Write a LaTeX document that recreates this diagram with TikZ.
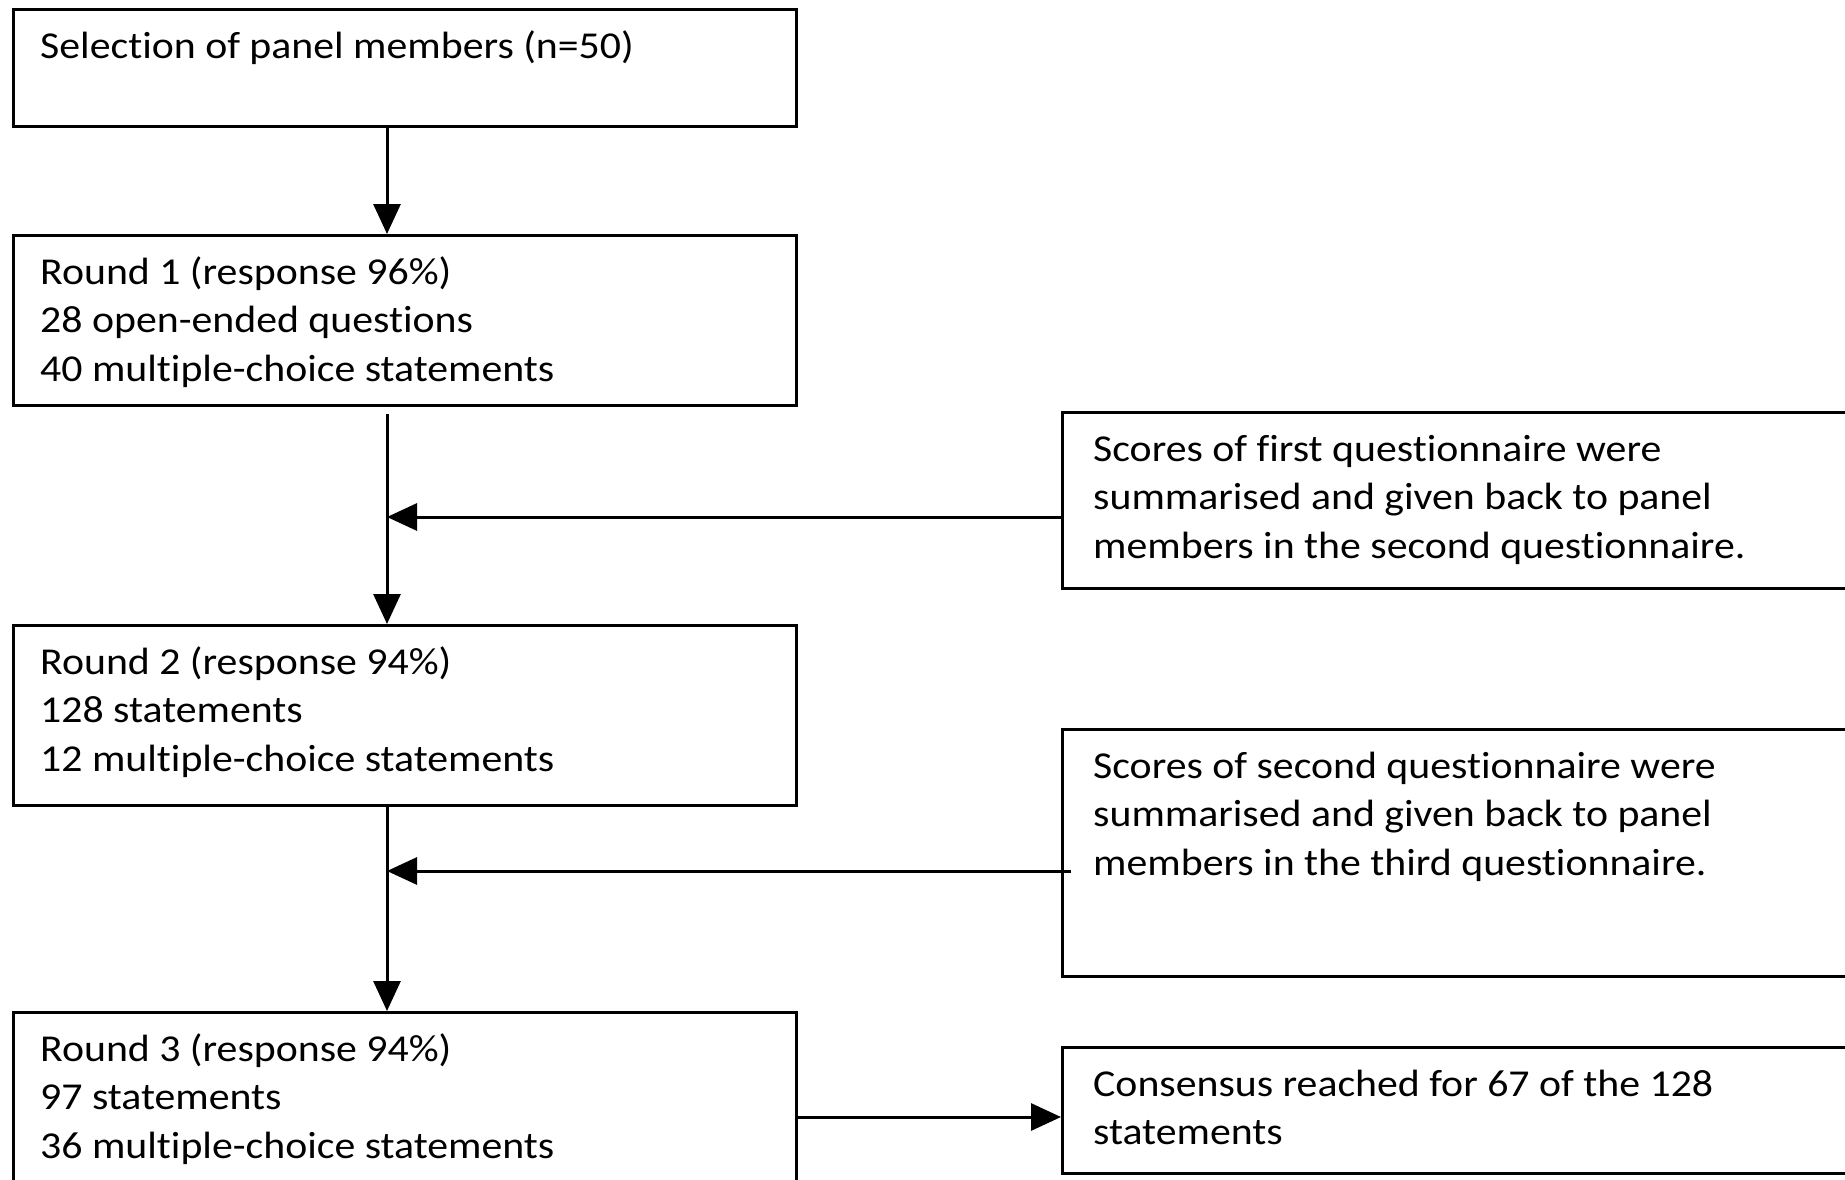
\documentclass[tikz,border=0pt]{standalone}
\usepackage{fontspec}
\setmainfont{Carlito}[Ligatures={NoCommon}, FakeStretch=1.1]
\usetikzlibrary{arrows.meta}
\tikzset{
  box/.style={draw=black, line width=3pt, inner sep=0pt, anchor=north west},
  txt/.style={inner sep=0pt, anchor=north west, align=left, font=\fontsize{38}{48.5}\selectfont, text=black},
  conn/.style={line width=3pt, draw=black, -{Triangle[length=30pt,width=27pt]}},
  plain/.style={line width=3pt, draw=black}
}
\begin{document}
\begin{tikzpicture}[x=1pt,y=1pt]
\useasboundingbox (0,0) rectangle (1845,-1180);
% left column boxes
\node[box, minimum width=783pt, minimum height=117pt] (b1) at (12,-8) {};
\node[box, minimum width=783pt, minimum height=170pt] (b2) at (12,-234) {};
\node[box, minimum width=783pt, minimum height=180pt] (b3) at (12,-624) {};
\node[box, minimum width=783pt, minimum height=200pt] (b4) at (12,-1011) {};
% right column boxes
\node[box, minimum width=800pt, minimum height=176pt] (sa) at (1061,-411) {};
\node[box, minimum width=800pt, minimum height=247pt] (sb) at (1061,-728) {};
\node[box, minimum width=800pt, minimum height=126pt] (sc) at (1061,-1046) {};
% texts
\node[txt] (t1) at ([xshift=28pt,yshift=-16pt]b1.north west) {\strut Selection of panel members (n=50)};
\node[txt] (t2) at ([xshift=28pt,yshift=-16pt]b2.north west) {\strut Round 1 (response 96\%)\\28 open-ended questions\\40 multiple-choice statements};
\node[txt] (t3) at ([xshift=28pt,yshift=-16pt]b3.north west) {\strut Round 2 (response 94\%)\\128 statements\\12 multiple-choice statements};
\node[txt] (t4) at ([xshift=28pt,yshift=-16pt]b4.north west) {\strut Round 3 (response 94\%)\\97 statements\\36 multiple-choice statements};
\node[txt] (ta) at ([xshift=32pt,yshift=-16pt]sa.north west) {\strut Scores of first questionnaire were\\summarised and given back to panel\\members in the second questionnaire.};
\node[txt] (tb) at ([xshift=32pt,yshift=-16pt]sb.north west) {\strut Scores of second questionnaire were\\summarised and given back to panel\\members in the third questionnaire.};
\node[txt] (tc) at ([xshift=32pt,yshift=-16pt]sc.north west) {\strut Consensus reached for 67 of the 128\\statements};
% trunk coordinates
\coordinate (tr) at (387,0);
\coordinate (ja) at (387,-517);
\coordinate (jb) at (387,-871);
\coordinate (jc) at (0,-1117);
% connectors
\draw[conn] (b1.south -| tr) -- (b2.north -| tr);
\draw[conn] ([yshift=-7pt]b2.south -| tr) -- (b3.north -| tr);
\draw[conn] (b3.south -| tr) -- (b4.north -| tr);
\draw[conn] (sa.west |- ja) -- (ja);
\draw[conn] ([xshift=10pt]sb.west |- jb) -- (jb);
\draw[conn] (b4.east |- jc) -- (sc.west |- jc);
\end{tikzpicture}
\end{document}
